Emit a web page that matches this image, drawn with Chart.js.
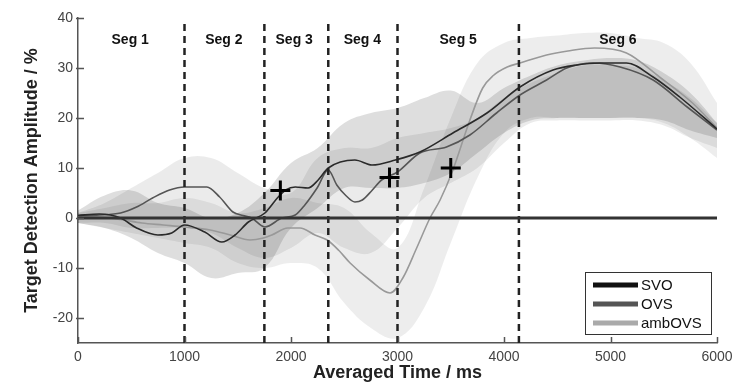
<!DOCTYPE html>
<html>
<head>
<meta charset="utf-8">
<script src="https://cdn.jsdelivr.net/npm/chart.js@4.4.0/dist/chart.umd.min.js"></script>
<style>
  html, body { margin: 0; padding: 0; background: #fff; }
</style>
</head>
<body>
<canvas id="chart" width="741" height="384"></canvas>
<script>
// mean curves (time in ms, amplitude in %)
const svoT = [0, 200, 400, 550, 750, 880, 1000, 1190, 1350, 1475, 1600, 1755, 1880, 1950, 2040, 2160, 2255, 2350, 2600, 2760, 2980, 3210, 3520, 3840, 4150, 4460, 4685, 4900, 5150, 5400, 5650, 6000];
const svoV = [0.5, 0.8, 0, -2, -3.4, -3, -1.4, -2.8, -4.8, -3.4, -0.8, 1, 4.2, 5.6, 6.2, 6, 7.6, 10, 11.6, 10.6, 11.6, 13.2, 17, 21, 26.2, 29.6, 30.6, 31, 31, 28.2, 24.2, 17.8];

const ovsT = [0, 200, 400, 550, 700, 860, 1000, 1210, 1330, 1455, 1550, 1630, 1755, 1915, 2040, 2130, 2245, 2350, 2430, 2510, 2600, 2670, 2760, 2850, 3000, 3210, 3460, 3680, 3930, 4150, 4400, 4590, 4840, 5090, 5400, 5720, 6000];
const ovsV = [0.5, 0.6, 1, 2.2, 4, 5.6, 6.2, 6.2, 4.2, 1.2, 0.5, 0, -1.8, 0, 0.6, 2.6, 6, 9.6, 6.6, 4.6, 3.2, 3.6, 5.5, 7.6, 9.2, 13, 14.2, 16.6, 21, 24.6, 27.6, 30, 31, 30.2, 27.6, 22.2, 17.6];

const ambT = [0, 200, 400, 600, 800, 1000, 1240, 1430, 1615, 1740, 1820, 1970, 2085, 2225, 2340, 2450, 2555, 2740, 2930, 3050, 3180, 3305, 3400, 3520, 3680, 3800, 3900, 4030, 4150, 4400, 4600, 4850, 5150, 5460, 5770, 6000];
const ambV = [0.3, 0.2, -0.3, -1, -1.4, -1.8, -2.4, -3.4, -4.4, -4, -3.4, -2, -2, -3.4, -4.4, -6.5, -9, -12.4, -15, -12, -6, 0, 3.6, 9.6, 19.6, 26, 28.5, 30.2, 31, 32.6, 33.4, 34, 33, 28.2, 23, 18];

// shaded bands
const bandT = [0, 250, 500, 750, 1000, 1250, 1500, 1750, 2000, 2250, 2500, 2750, 3000, 3250, 3500, 3750, 4000, 4250, 4500, 4750, 5000, 5250, 5500, 5750, 6000];
const svoHi = [1.5, 4.5, 5.5, 3, 2, 0, 1, 5, 11, 14, 19, 21, 22, 24, 25.5, 23, 26, 28.5, 30.5, 31.5, 32, 31.5, 29, 25, 19];
const svoLo = [-1, -2, -4, -7, -9, -12, -11, -10, -2, 2, 6, 6, 6, 7, 9, 13, 17, 19.5, 20, 20, 20, 20, 19.5, 17.5, 16];
const ovsHi = [1, 3, 6, 9, 12, 12, 9, 6, 5, 12, 14, 14, 16, 17, 18, 20, 24, 27, 29, 30.5, 30.5, 30, 27.5, 24, 19];
const ovsLo = [-1, -1, -2, -2, -2, -3, -6, -8, -6, -3, -6, -7, -2, 4, 7, 10, 15, 19, 19.5, 19.5, 19.5, 19.5, 18.5, 16, 14];
const ambHi = [1, 2, 3, 3, 4, 3, 1, 2, 4, 3, 2, -3, -6, 6, 20, 31, 35, 36, 36.5, 37, 37, 36, 35, 31, 23];
const ambLo = [-1, -2, -3, -4, -5, -6, -9, -10, -9, -10, -17, -22, -24, -18, -5, 8, 17, 20, 20, 20, 20, 20, 19, 16, 12];

// segment boundaries, labels and significance crosses
const segBounds = [1000, 1750, 2350, 3000, 4140];
const segNames = ['Seg 1', 'Seg 2', 'Seg 3', 'Seg 4', 'Seg 5', 'Seg 6'];
const segLabelT = [490, 1370, 2030, 2670, 3570, 5070];
const segLabelY = 35.5;
const crossT = [1900, 2925, 3500];
const crossV = [5.5, 8.1, 10];

const xTicks = [0, 1000, 2000, 3000, 4000, 5000, 6000];
const yTicks = [-20, -10, 0, 10, 20, 30, 40];

const legendNames = ['SVO', 'OVS', 'ambOVS'];
const legendColors = ['#111', '#555', '#aaa'];

const FONT = '"Liberation Sans", Arial, sans-serif';

const pts = (t, v) => t.map((tt, i) => ({ x: tt, y: v[i] }));

const curve = (data, color) => ({
  data, borderColor: color, borderWidth: 1.6, pointRadius: 0,
  cubicInterpolationMode: 'monotone', fill: false
});
const bandPair = (hi, lo, color) => [
  { data: pts(bandT, hi), borderWidth: 0, pointRadius: 0, backgroundColor: color,
    fill: '+1', tension: 0.4 },
  { data: pts(bandT, lo), borderWidth: 0, pointRadius: 0, fill: false, tension: 0.4 }
];

const datasets = [];
// crosses on top
datasets.push({
  data: pts(crossT, crossV), showLine: false, pointStyle: 'cross',
  pointRadius: 10, pointBorderWidth: 3, borderColor: '#000'
});
// zero line
datasets.push({
  data: [{ x: 0, y: 0 }, { x: 6000, y: 0 }], borderColor: '#333',
  borderWidth: 3, pointRadius: 0
});
segBounds.forEach(b => datasets.push({
  data: [{ x: b, y: -25 }, { x: b, y: 39.6 }], borderColor: '#222',
  borderWidth: 2.5, borderDash: [7, 5], pointRadius: 0
}));
datasets.push(curve(pts(svoT, svoV), '#2a2a2a'));
datasets.push(curve(pts(ovsT, ovsV), '#555'));
datasets.push(curve(pts(ambT, ambV), '#999'));
datasets.push(...bandPair(svoHi, svoLo, 'rgba(0,0,0,0.13)'));
datasets.push(...bandPair(ovsHi, ovsLo, 'rgba(0,0,0,0.08)'));
datasets.push(...bandPair(ambHi, ambLo, 'rgba(0,0,0,0.07)'));

const extras = {
  id: 'extras',
  afterDraw(chart) {
    const { ctx, chartArea: a, scales: { x, y } } = chart;
    ctx.save();
    // inward tick marks
    ctx.strokeStyle = '#555';
    ctx.lineWidth = 1.5;
    ctx.beginPath();
    yTicks.forEach(v => {
      const py = Math.round(y.getPixelForValue(v)) + 0.5;
      ctx.moveTo(a.left - 2, py); ctx.lineTo(a.left + 6, py);
    });
    xTicks.forEach(v => {
      const px = Math.round(x.getPixelForValue(v)) + 0.5;
      ctx.moveTo(px, a.bottom); ctx.lineTo(px, a.bottom - 6);
    });
    ctx.stroke();

    // segment labels
    ctx.fillStyle = '#111';
    ctx.font = 'bold 14px ' + FONT;
    ctx.textAlign = 'center';
    ctx.textBaseline = 'middle';
    segNames.forEach((s, i) => {
      ctx.fillText(s, x.getPixelForValue(segLabelT[i]), y.getPixelForValue(segLabelY));
    });

    // legend box
    const bx = a.right - 132, by = a.bottom - 71, bw = 126, bh = 62;
    ctx.fillStyle = '#fff';
    ctx.fillRect(bx, by, bw, bh);
    ctx.strokeStyle = '#333';
    ctx.lineWidth = 1;
    ctx.strokeRect(bx + 0.5, by + 0.5, bw, bh);
    ctx.font = '15px ' + FONT;
    ctx.textAlign = 'left';
    legendNames.forEach((n, i) => {
      const ly = by + 13 + i * 19;
      ctx.strokeStyle = legendColors[i];
      ctx.lineWidth = 5;
      ctx.beginPath();
      ctx.moveTo(bx + 8, ly); ctx.lineTo(bx + 53, ly);
      ctx.stroke();
      ctx.fillStyle = '#111';
      ctx.fillText(n, bx + 56, ly + 1);
    });
    ctx.restore();
  }
};

new Chart(document.getElementById('chart'), {
  type: 'line',
  data: { datasets },
  plugins: [extras],
  options: {
    responsive: false,
    animation: false,
    layout: { padding: { left: 0, top: 18, right: 24, bottom: 0 } },
    plugins: { legend: { display: false }, tooltip: { enabled: false } },
    scales: {
      x: {
        type: 'linear', min: 0, max: 6000,
        afterFit: s => { s.height = 41; },
        afterBuildTicks: s => { s.ticks = xTicks.map(v => ({ value: v })); },
        grid: { display: false, drawTicks: false },
        border: { color: '#555', width: 1.5 },
        ticks: { color: '#444', font: { family: FONT, size: 14 }, padding: 6, maxRotation: 0,
                 callback: v => String(v) },
        title: { display: true, text: 'Averaged Time / ms', color: '#222',
                 font: { family: FONT, size: 18, weight: 'bold' }, padding: { top: 0, bottom: 0 } }
      },
      y: {
        type: 'linear', min: -25, max: 40,
        afterFit: s => { s.width = 78; },
        afterBuildTicks: s => { s.ticks = yTicks.map(v => ({ value: v })); },
        grid: { display: false, drawTicks: false },
        border: { color: '#555', width: 1.5 },
        ticks: { color: '#444', font: { family: FONT, size: 14 }, padding: 5 },
        title: { display: true, text: 'Target Detection Amplitude / %', color: '#222',
                 font: { family: FONT, size: 18, weight: 'bold' }, padding: { top: 21, bottom: 0 } }
      }
    }
  }
});
</script>
</body>
</html>
